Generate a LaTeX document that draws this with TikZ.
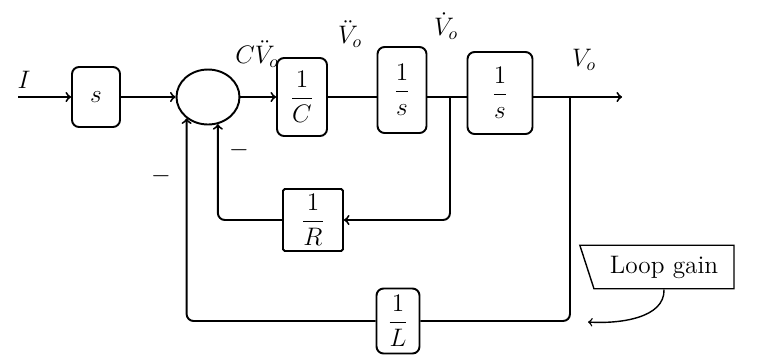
\documentclass[tikz,border=0pt]{standalone}
\usepackage{amsmath}
\usepackage{tikz}
\usetikzlibrary{positioning}
\usetikzlibrary{calc}
\usetikzlibrary{shapes}

\begin{document}
\begin{tikzpicture}[x=0.02cm, y=-0.02cm, line width=1.1pt, font=\Large,
	block/.style = {draw, rectangle, rounded corners=4pt, inner sep=1pt},
	sumnode/.style = {draw, ellipse, minimum width=1.26cm, minimum height=1.1cm},
	gainbox/.style = {draw, trapezium, trapezium left angle=90, trapezium right angle=72, shape border rotate=180, line width=0.8pt, inner xsep=9pt, inner ysep=6pt},
	sig/.style = {inner sep=0pt}]

\useasboundingbox (0,0) rectangle (759,356);

% forward path
\coordinate (in) at (18,97);
\node[block, minimum width=0.96cm, minimum height=1.2cm] (sbox) at (96,97) {$s$};
\node[sumnode] (sum) at (208,97) {};
\node[block, minimum width=1.0cm, minimum height=1.56cm] (cbox) at (302,97) {$\dfrac{1}{C}$};
\node[block, minimum width=0.98cm, minimum height=1.72cm] (s1box) at (402,90) {$\dfrac{1}{s}$};
\node[block, minimum width=1.3cm, minimum height=1.64cm] (s2box) at (500,93) {$\dfrac{1}{s}$};
\coordinate (tapv) at (450,97);
\coordinate (tapo) at (570,97);
\coordinate (out) at (622,97);

% feedback blocks
\node[block, rounded corners=1pt, minimum width=1.2cm, minimum height=1.24cm] (rbox) at (313,220) {$\dfrac{1}{R}$};
\node[block, minimum width=0.86cm, minimum height=1.3cm] (lbox) at (398,321) {$\dfrac{1}{L}$};

% signal labels
\node[sig] (ilabel) at (24,80) {$I$};
\node[sig] (cvlabel) at (257,54) {$C\ddot{V}_{o}$};
\node[sig] (v2label) at (350,34) {$\ddot{V}_{o}$};
\node[sig] (v1label) at (446,26) {$\dot{V}_{o}$};
\node[sig] (vlabel) at (584,60) {$V_{o}$};
\node[sig] (minusr) at (239,150) {$-$};
\node[sig] (minusl) at (161,176) {$-$};

\node[gainbox] (gain) at (664,267) {Loop gain};
\coordinate (gaintip) at (588,322);

\draw[->] (in) -- (sbox);
\draw[->] (sbox) -- (sum);
\draw[->] (sum) -- (cbox);
\draw (cbox.east) -- (cbox.east -| s1box.west);
\draw (s1box.east |- tapv) -- (tapv) -- (tapv -| s2box.west);
\draw[->] (s2box.east |- out) -- (out);

\draw[->, rounded corners=4pt] (tapv) |- (rbox.east);
\draw[->, rounded corners=4pt] (rbox.west) -| (sum.290);
\draw[rounded corners=4pt] (tapo) |- (lbox.east);
\draw[->, rounded corners=4pt] (lbox.west) -| (sum.225);

\draw[->, line width=0.8pt] (gain.south) .. controls (665,318) and (620,324) .. (gaintip);

\end{tikzpicture}
\end{document}
